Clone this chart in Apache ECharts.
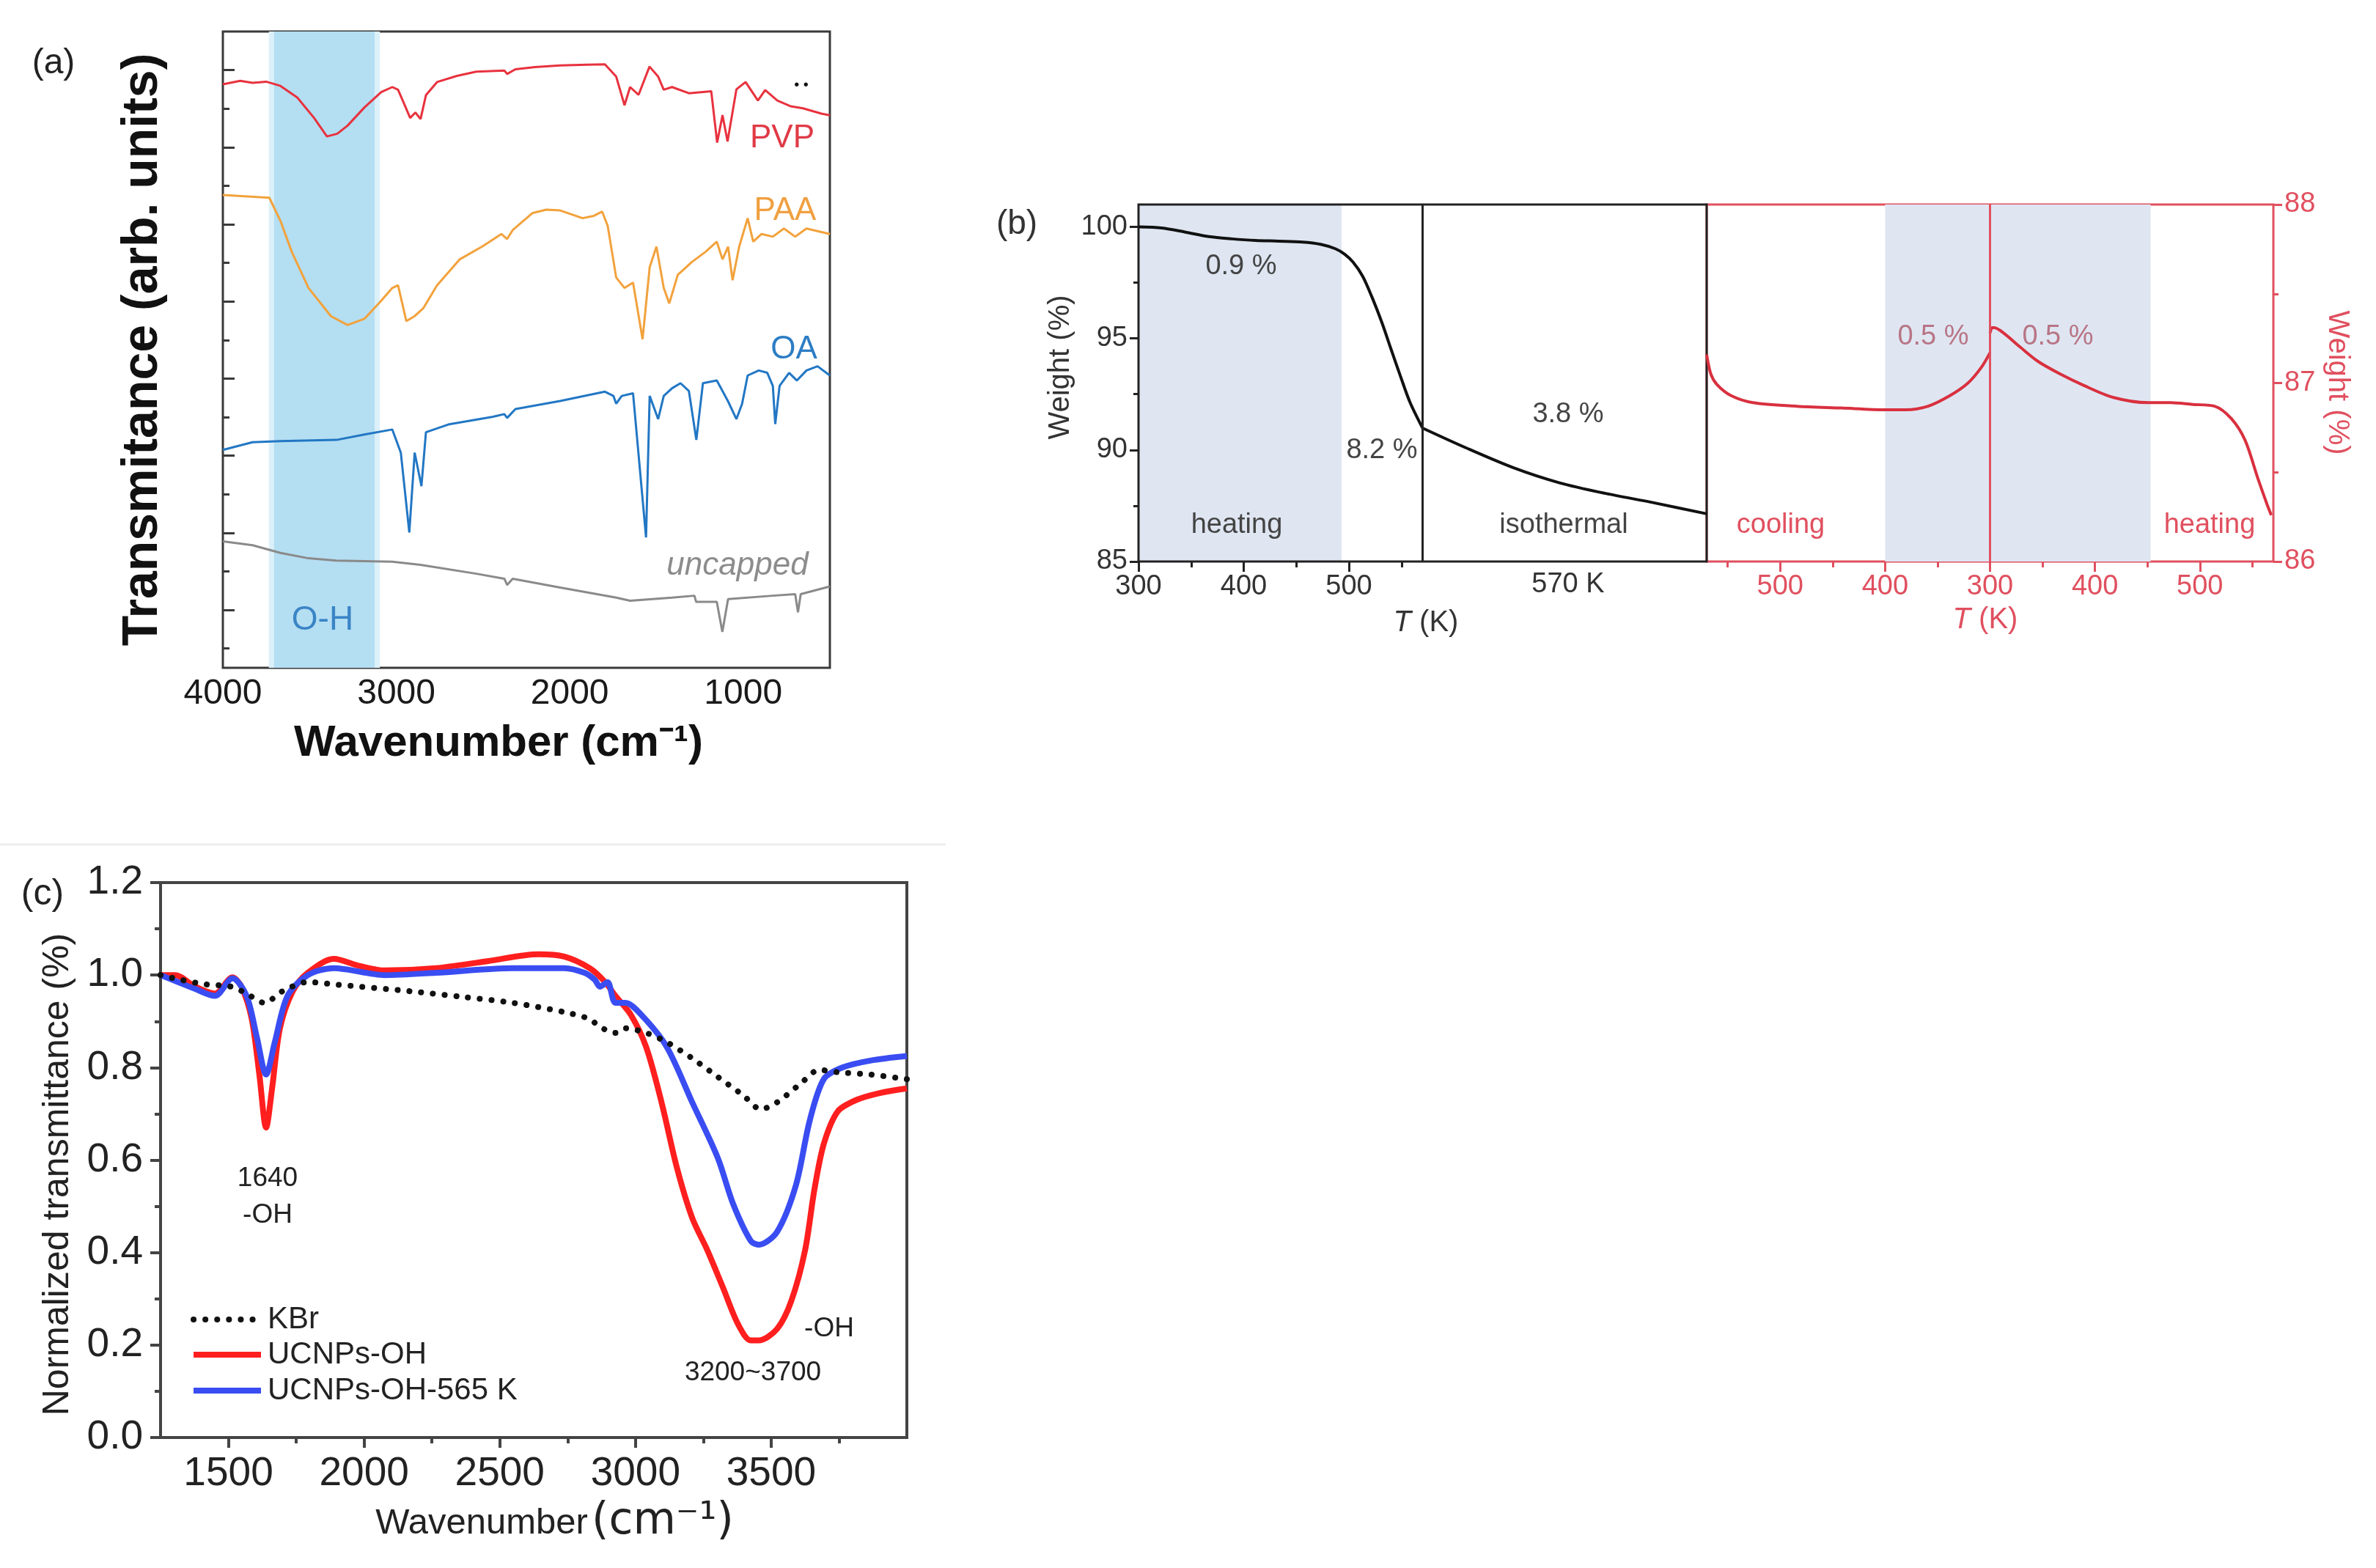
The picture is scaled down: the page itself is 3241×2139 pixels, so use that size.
<!DOCTYPE html>
<html>
<head>
<meta charset="utf-8">
<title>FTIR / TGA panels</title>
<script src="https://cdn.jsdelivr.net/npm/echarts@6.0.0/dist/echarts.min.js"></script>
<style>
  html, body { margin: 0; padding: 0; background: #fff; }
  #chart { width: 3241px; height: 2139px; }
</style>
</head>
<body>
<div id="chart"></div>
<script>
// (a) FTIR of capped particles, offset transmittance (arb. units, 1 unit = 1 tick)
const pvpWave = [4000, 3900, 3829, 3750, 3668, 3571, 3474, 3400, 3340, 3281, 3184, 3087, 3023, 2990, 2958, 2920, 2890, 2860, 2829, 2765, 2650, 2539, 2377, 2361, 2313, 2200, 2055, 1900, 1797, 1732, 1684, 1652, 1603, 1540, 1490, 1458, 1410, 1313, 1184, 1150, 1119, 1090, 1039, 986, 915, 873, 803, 725, 655, 549, 500]
const pvpVal = [15.13, 15.22, 15.17, 15.20, 15.09, 14.79, 14.26, 13.78, 13.85, 14.06, 14.53, 14.93, 15.06, 14.99, 14.66, 14.26, 14.40, 14.23, 14.85, 15.19, 15.35, 15.46, 15.49, 15.40, 15.52, 15.58, 15.62, 15.64, 15.65, 15.33, 14.59, 15.06, 14.86, 15.59, 15.33, 14.99, 15.06, 14.90, 14.95, 13.62, 14.33, 13.65, 15.00, 15.19, 14.71, 14.98, 14.71, 14.56, 14.51, 14.37, 14.33]

const paaWave = [4000, 3732, 3668, 3603, 3506, 3377, 3281, 3184, 3087, 3023, 2990, 2942, 2894, 2845, 2765, 2635, 2506, 2394, 2361, 2329, 2216, 2135, 2055, 1926, 1861, 1813, 1781, 1732, 1684, 1635, 1580, 1539, 1500, 1458, 1426, 1377, 1345, 1297, 1216, 1152, 1119, 1087, 1061, 1023, 974, 942, 894, 829, 765, 700, 635, 500]
const paaVal = [12.26, 12.19, 11.59, 10.79, 9.85, 9.12, 8.89, 9.05, 9.52, 9.85, 9.92, 8.99, 9.12, 9.32, 9.92, 10.59, 10.92, 11.25, 11.12, 11.35, 11.79, 11.88, 11.86, 11.66, 11.72, 11.83, 11.46, 10.12, 9.85, 9.99, 8.52, 10.39, 10.92, 9.85, 9.45, 10.19, 10.32, 10.52, 10.79, 11.05, 10.59, 10.92, 10.05, 10.92, 11.66, 11.05, 11.25, 11.18, 11.39, 11.18, 11.39, 11.25]

const oaWave = [4000, 3829, 3668, 3345, 3184, 3023, 2974, 2925, 2894, 2855, 2829, 2700, 2442, 2377, 2361, 2313, 2055, 1797, 1748, 1732, 1700, 1635, 1560, 1539, 1490, 1458, 1410, 1361, 1313, 1270, 1232, 1152, 1087, 1039, 1006, 974, 910, 861, 829, 815, 790, 735, 690, 635, 571, 500]
const oaVal = [5.65, 5.85, 5.88, 5.91, 6.05, 6.18, 5.58, 3.51, 5.58, 4.71, 6.11, 6.31, 6.51, 6.58, 6.48, 6.71, 6.92, 7.16, 7.05, 6.85, 7.05, 7.12, 3.38, 7.05, 6.45, 7.05, 7.25, 7.38, 7.18, 5.91, 7.38, 7.45, 6.91, 6.45, 6.85, 7.58, 7.71, 7.65, 7.31, 6.32, 7.31, 7.65, 7.45, 7.71, 7.82, 7.58]

const bareWave = [4000, 3829, 3668, 3506, 3345, 3023, 2861, 2539, 2377, 2361, 2329, 2055, 1732, 1652, 1410, 1281, 1271, 1152, 1120, 1087, 829, 700, 684, 668, 500]
const bareVal = [3.28, 3.18, 2.98, 2.84, 2.78, 2.75, 2.67, 2.44, 2.31, 2.15, 2.31, 2.08, 1.82, 1.74, 1.82, 1.87, 1.71, 1.71, 0.93, 1.78, 1.87, 1.91, 1.44, 1.91, 2.11]

const aWaveLabels = [1000, 2000, 3000, 4000]
const aMajorTicks = [1.5, 3.5, 5.5, 7.5, 9.5, 11.5, 13.5, 15.5]
const aMinorTicks = [0.5, 2.5, 4.5, 6.5, 8.5, 10.5, 12.5, 14.5]

// (b) TGA: heating to 570 K, isothermal hold, then cooling / reheating
const heatT = [300, 322, 344, 367, 389, 411, 433, 456, 473, 487, 496, 504, 513, 522, 531, 540, 549, 558, 570]
const heatW = [100.0, 99.95, 99.77, 99.56, 99.46, 99.39, 99.36, 99.32, 99.22, 99.02, 98.77, 98.41, 97.79, 96.84, 95.75, 94.52, 93.30, 92.14, 90.98]
const isoPos = [570, 611, 656, 700, 744, 789, 840]
const isoW = [90.98, 90.10, 89.21, 88.53, 88.05, 87.64, 87.14]

const coolT = [570, 566, 560, 547, 526, 484, 442, 400, 380, 359, 338, 321, 308, 300]
const coolW = [87.16, 87.05, 86.99, 86.93, 86.89, 86.87, 86.86, 86.85, 86.85, 86.87, 86.93, 87.00, 87.09, 87.17]
const reheatT = [300, 302, 304, 313, 329, 346, 367, 388, 417, 451, 472, 493, 514, 530, 543, 555, 564, 568]
const reheatW = [87.28, 87.31, 87.31, 87.28, 87.20, 87.12, 87.05, 86.99, 86.92, 86.89, 86.89, 86.88, 86.87, 86.80, 86.68, 86.47, 86.32, 86.26]

// (c) normalized FTIR
const kbrWave = [1250, 1322, 1416, 1510, 1567, 1633, 1699, 1793, 1888, 2171, 2360, 2548, 2737, 2831, 2869, 2926, 2963, 3039, 3115, 3209, 3303, 3397, 3462, 3522, 3608, 3677, 3745, 3865, 4000]
const kbrVal = [1.00, 0.99, 0.98, 0.975, 0.96, 0.94, 0.965, 0.985, 0.98, 0.965, 0.953, 0.94, 0.92, 0.905, 0.888, 0.875, 0.885, 0.875, 0.855, 0.82, 0.78, 0.74, 0.71, 0.725, 0.765, 0.795, 0.79, 0.785, 0.775]
const ohWave = [1250, 1303, 1378, 1450, 1515, 1548, 1586, 1614, 1639, 1661, 1690, 1737, 1793, 1888, 1982, 2076, 2265, 2454, 2643, 2737, 2831, 2888, 2926, 2982, 3039, 3096, 3152, 3209, 3265, 3322, 3378, 3425, 3454, 3522, 3574, 3625, 3659, 3694, 3745, 3814, 3900, 4000]
const ohVal = [1.00, 1.00, 0.975, 0.96, 0.995, 0.975, 0.905, 0.785, 0.67, 0.755, 0.885, 0.965, 1.005, 1.035, 1.02, 1.01, 1.015, 1.03, 1.045, 1.04, 1.015, 0.985, 0.955, 0.915, 0.845, 0.725, 0.585, 0.475, 0.405, 0.325, 0.245, 0.21, 0.21, 0.235, 0.295, 0.405, 0.535, 0.635, 0.705, 0.73, 0.745, 0.755]
const oh565Wave = [1250, 1378, 1450, 1515, 1567, 1605, 1639, 1671, 1718, 1793, 1888, 2076, 2265, 2548, 2737, 2812, 2850, 2869, 2897, 2926, 2963, 3020, 3115, 3209, 3303, 3360, 3425, 3454, 3522, 3591, 3642, 3694, 3762, 3865, 4000]
const oh565Val = [1.00, 0.97, 0.955, 0.993, 0.955, 0.865, 0.785, 0.855, 0.955, 1.00, 1.015, 1.00, 1.005, 1.015, 1.015, 1.005, 0.99, 0.975, 0.985, 0.94, 0.94, 0.915, 0.845, 0.725, 0.605, 0.505, 0.425, 0.417, 0.445, 0.545, 0.685, 0.775, 0.80, 0.815, 0.825]
const cMajorX = [1500, 2000, 2500, 3000, 3500]
const cMinorX = [1750, 2250, 2750, 3250, 3750]

const FONT = "'Liberation Sans', Arial, Helvetica, sans-serif"
const RED_B = '#e0505f'
const KBR_DOTS = [0.1, 16]

function pairs (xs, ys) {
  return xs.map((x, i) => [x, ys[i]])
}

// right half of (b): cooling 570 -> 300 then heating 300 -> 570 on one position axis
const coolPos = coolT.map(t => 570 - t)
const reheatPos = reheatT.map(t => t - 30)
const posToT = p => (p <= 270 ? 570 - p : p + 30)

function text (str, x, y, size, color, more, el) {
  return Object.assign({
    type: 'text',
    x: x,
    y: y,
    z: 100,
    silent: true,
    style: Object.assign({
      text: str,
      fontSize: size,
      fontFamily: FONT,
      fill: color,
      align: 'center',
      verticalAlign: 'middle'
    }, more || {})
  }, el || {})
}

function legendLine (y, color, dash) {
  return {
    type: 'line', z: 100, silent: true,
    shape: { x1: 264, y1: y, x2: 356, y2: y },
    style: { stroke: color, lineWidth: 8, lineDash: dash || null, lineCap: dash ? 'round' : 'butt' }
  }
}

// axis lines are drawn by the grid borders, so every axis keeps its own line off and never jumps to zero
const NO_LINE = { show: false, onZero: false }

function hiddenAxis (extra) {
  return Object.assign({
    type: 'value',
    axisLine: NO_LINE,
    axisLabel: { show: false },
    splitLine: { show: false }
  }, extra)
}

const plain = v => String(v)

const chart = echarts.init(document.getElementById('chart'))

const option = {
  animation: false,
  backgroundColor: '#fff',
  textStyle: { fontFamily: FONT },
  grid: [
    { left: 304, top: 43, width: 828, height: 868, show: true, borderColor: '#3a3a3a', borderWidth: 3, outerBoundsMode: 'none' },
    { left: 1553, top: 279, width: 775, height: 487, show: true, borderColor: '#222', borderWidth: 3, z: 2, outerBoundsMode: 'none' },
    { left: 2328, top: 279, width: 773, height: 487, show: true, borderColor: RED_B, borderWidth: 3, z: 1, outerBoundsMode: 'none' },
    { left: 219, top: 1204, width: 1018, height: 757, show: true, borderColor: '#444', borderWidth: 4, outerBoundsMode: 'none' }
  ],
  xAxis: [
    { // (a)
      gridIndex: 0, type: 'value', position: 'bottom', min: 500, max: 4000, inverse: true,
      axisLine: NO_LINE, axisTick: { show: false }, splitLine: { show: false },
      axisLabel: { customValues: aWaveLabels, formatter: plain, fontSize: 48, color: '#1a1a1a', margin: 12, fontFamily: FONT }
    },
    { // (b) heating + isothermal
      gridIndex: 1, type: 'value', position: 'bottom', min: 300, max: 840,
      axisLine: NO_LINE, splitLine: { show: false },
      axisTick: { customValues: [300, 400, 500], length: 14, lineStyle: { color: '#222', width: 3 } },
      axisLabel: { customValues: [300, 400, 500], formatter: plain, fontSize: 38, color: '#333', margin: 16, fontFamily: FONT }
    },
    hiddenAxis({ gridIndex: 1, position: 'bottom', min: 300, max: 840, axisTick: { customValues: [350, 450, 550], length: 8, lineStyle: { color: '#222', width: 3 } } }),
    { // (b) cooling + reheating
      gridIndex: 2, type: 'value', position: 'bottom', min: 0, max: 540,
      axisLine: NO_LINE, splitLine: { show: false },
      axisTick: { customValues: [70, 170, 270, 370, 470], length: 14, lineStyle: { color: RED_B, width: 3 } },
      axisLabel: { customValues: [70, 170, 270, 370, 470], formatter: v => String(posToT(v)), fontSize: 38, color: RED_B, margin: 16, fontFamily: FONT }
    },
    hiddenAxis({ gridIndex: 2, position: 'bottom', min: 0, max: 540, axisTick: { customValues: [20, 120, 220, 320, 420, 520], length: 8, lineStyle: { color: RED_B, width: 3 } } }),
    { // (c)
      gridIndex: 3, type: 'value', position: 'bottom', min: 1250, max: 4000,
      axisLine: NO_LINE, splitLine: { show: false },
      axisTick: { customValues: cMajorX, length: 14, lineStyle: { color: '#444', width: 4 } },
      axisLabel: { customValues: cMajorX, formatter: plain, fontSize: 55, color: '#222', margin: 22, fontFamily: FONT }
    },
    hiddenAxis({ gridIndex: 3, position: 'bottom', min: 1250, max: 4000, axisTick: { customValues: cMinorX, length: 8, lineStyle: { color: '#444', width: 4 } } })
  ],
  yAxis: [
    hiddenAxis({ gridIndex: 0, position: 'left', min: 0, max: 16.5, axisTick: { inside: true, customValues: aMajorTicks, length: 16, lineStyle: { color: '#3a3a3a', width: 3 } } }),
    hiddenAxis({ gridIndex: 0, position: 'left', min: 0, max: 16.5, axisTick: { inside: true, customValues: aMinorTicks, length: 9, lineStyle: { color: '#3a3a3a', width: 3 } } }),
    {
      gridIndex: 1, type: 'value', position: 'left', min: 85, max: 101,
      axisLine: NO_LINE, splitLine: { show: false },
      axisTick: { customValues: [85, 90, 95, 100], length: 12, lineStyle: { color: '#222', width: 3 } },
      axisLabel: { customValues: [85, 90, 95, 100], formatter: plain, fontSize: 38, color: '#333', margin: 15, fontFamily: FONT }
    },
    hiddenAxis({ gridIndex: 1, position: 'left', min: 85, max: 101, axisTick: { customValues: [87.5, 92.5, 97.5], length: 7, lineStyle: { color: '#222', width: 3 } } }),
    {
      gridIndex: 2, type: 'value', position: 'right', min: 86, max: 88,
      axisLine: NO_LINE, splitLine: { show: false },
      axisTick: { customValues: [86, 87, 88], length: 12, lineStyle: { color: RED_B, width: 3 } },
      axisLabel: { customValues: [86, 87, 88], formatter: plain, fontSize: 38, color: RED_B, margin: 15, fontFamily: FONT }
    },
    hiddenAxis({ gridIndex: 2, position: 'right', min: 86, max: 88, axisTick: { customValues: [86.5, 87.5], length: 7, lineStyle: { color: RED_B, width: 3 } } }),
    {
      gridIndex: 3, type: 'value', position: 'left', min: 0, max: 1.2, interval: 0.2,
      axisLine: NO_LINE, splitLine: { show: false },
      axisTick: { length: 14, lineStyle: { color: '#444', width: 4 } },
      minorTick: { show: true, splitNumber: 2, length: 8, lineStyle: { color: '#444', width: 4 } },
      axisLabel: { formatter: v => v.toFixed(1), fontSize: 55, color: '#222', margin: 24, fontFamily: FONT }
    }
  ],
  series: [
    {
      name: 'PVP', type: 'line', xAxisIndex: 0, yAxisIndex: 0, symbol: 'none',
      data: pairs(pvpWave, pvpVal),
      lineStyle: { color: '#e8323e', width: 3 }, itemStyle: { color: '#e8323e' },
      markArea: {
        silent: true,
        data: [
          [{ xAxis: 3735, itemStyle: { color: '#dcf0fa' } }, { xAxis: 3095 }],
          [{ xAxis: 3705, itemStyle: { color: '#b4def2' } }, { xAxis: 3125 }]
        ]
      }
    },
    { name: 'PAA', type: 'line', xAxisIndex: 0, yAxisIndex: 0, symbol: 'none', data: pairs(paaWave, paaVal), lineStyle: { color: '#f2a23c', width: 3 }, itemStyle: { color: '#f2a23c' } },
    { name: 'OA', type: 'line', xAxisIndex: 0, yAxisIndex: 0, symbol: 'none', data: pairs(oaWave, oaVal), lineStyle: { color: '#2277c4', width: 3 }, itemStyle: { color: '#2277c4' } },
    { name: 'uncapped', type: 'line', xAxisIndex: 0, yAxisIndex: 0, symbol: 'none', data: pairs(bareWave, bareVal), lineStyle: { color: '#8a8a8a', width: 3 }, itemStyle: { color: '#8a8a8a' } },

    {
      name: 'heating', type: 'line', xAxisIndex: 1, yAxisIndex: 2, symbol: 'none', smooth: 0.3,
      data: pairs(heatT, heatW),
      lineStyle: { color: '#111', width: 4 }, itemStyle: { color: '#111' },
      markArea: { silent: true, data: [[{ xAxis: 300, itemStyle: { color: '#dfe6f2' } }, { xAxis: 493 }]] },
      markLine: { silent: true, symbol: 'none', label: { show: false }, lineStyle: { color: '#222', width: 3, type: 'solid' }, data: [{ xAxis: 570 }] }
    },
    { name: 'isothermal', type: 'line', xAxisIndex: 1, yAxisIndex: 2, symbol: 'none', smooth: 0.3, data: pairs(isoPos, isoW), lineStyle: { color: '#111', width: 4 }, itemStyle: { color: '#111' } },
    {
      name: 'cooling', type: 'line', xAxisIndex: 3, yAxisIndex: 4, symbol: 'none', smooth: 0.3,
      data: pairs(coolPos, coolW),
      lineStyle: { color: '#d9303f', width: 4 }, itemStyle: { color: '#d9303f' },
      markArea: { silent: true, data: [[{ xAxis: 170, itemStyle: { color: '#dfe6f2' } }, { xAxis: 423 }]] },
      markLine: { silent: true, symbol: 'none', label: { show: false }, lineStyle: { color: RED_B, width: 3, type: 'solid' }, data: [{ xAxis: 270 }] }
    },
    { name: 'reheating', type: 'line', xAxisIndex: 3, yAxisIndex: 4, symbol: 'none', smooth: 0.3, data: pairs(reheatPos, reheatW), lineStyle: { color: '#d9303f', width: 4 }, itemStyle: { color: '#d9303f' } },

    { name: 'UCNPs-OH', type: 'line', xAxisIndex: 5, yAxisIndex: 6, symbol: 'none', smooth: 0.3, data: pairs(ohWave, ohVal), lineStyle: { color: '#ff1f1f', width: 8 }, itemStyle: { color: '#ff1f1f' } },
    { name: 'UCNPs-OH-565 K', type: 'line', xAxisIndex: 5, yAxisIndex: 6, symbol: 'none', smooth: 0.3, data: pairs(oh565Wave, oh565Val), lineStyle: { color: '#3a4df2', width: 8 }, itemStyle: { color: '#3a4df2' } },
    { name: 'KBr', type: 'line', xAxisIndex: 5, yAxisIndex: 6, symbol: 'none', smooth: 0.3, data: pairs(kbrWave, kbrVal), lineStyle: { color: '#111', width: 8, type: KBR_DOTS, cap: 'round' }, itemStyle: { color: '#111' } }
  ],
  graphic: [
    // separator under (a)
    { type: 'line', silent: true, shape: { x1: 0, y1: 1152, x2: 1290, y2: 1152 }, style: { stroke: '#eeeeee', lineWidth: 3 } },

    // (a)
    text('(a)', 73, 87, 48, '#222'),
    text('Transmitance (arb. units)', 195, 477, 68, '#111', { fontWeight: 'bold' }, { rotation: Math.PI / 2 }),
    text('{b|Wavenumber} (cm⁻¹)', 680, 1014, 60, '#111', { fontWeight: 'bold', rich: { b: { fontSize: 60, fontWeight: 'bold', fontFamily: FONT, fill: '#111' } } }),
    text('PVP', 1067, 189, 44, '#e03a46'),
    text('PAA', 1071, 288, 44, '#f0a040'),
    text('OA', 1083, 477, 44, '#2c7dc4'),
    text('uncapped', 1006, 772, 44, '#8c8c8c', { fontStyle: 'italic' }),
    text('O-H', 440, 846, 46, '#3a84c6'),
    text('• •', 1093, 116, 20, '#111'),

    // (b)
    text('(b)', 1387, 306, 46, '#333'),
    text('Weight (%)', 1447, 501, 40, '#333', null, { rotation: Math.PI / 2 }),
    text('0.9 %', 1693, 364, 38, '#444'),
    text('8.2 %', 1885, 615, 38, '#444'),
    text('3.8 %', 2139, 566, 38, '#444'),
    text('heating', 1687, 717, 38, '#444'),
    text('isothermal', 2133, 717, 38, '#444'),
    text('570 K', 2139, 798, 38, '#333'),
    text('{i|T} (K)', 1945, 850, 40, '#333', { rich: { i: { fontStyle: 'italic', fontSize: 40, fontFamily: FONT, fill: '#333' } } }),
    text('cooling', 2429, 717, 38, RED_B),
    text('0.5 %', 2637, 460, 38, '#b87585'),
    text('0.5 %', 2807, 460, 38, '#b87585'),
    text('heating', 3014, 717, 38, RED_B),
    text('{i|T} (K)', 2708, 846, 40, RED_B, { rich: { i: { fontStyle: 'italic', fontSize: 40, fontFamily: FONT, fill: RED_B } } }),
    text('Weight (%)', 3188, 522, 40, RED_B, null, { rotation: -Math.PI / 2 }),

    // (c)
    text('(c)', 58, 1220, 50, '#222'),
    text('Normalized transmittance (%)', 79, 1602, 50, '#222', null, { rotation: Math.PI / 2 }),
    text('Wavenumber', 657, 2078, 49, '#222'),
    text('(cm⁻¹)', 807, 2076, 60, '#222', { align: 'left', fontFamily: "'DejaVu Sans', sans-serif" }),
    text('1640', 365, 1608, 37, '#222'),
    text('-OH', 365, 1658, 37, '#222'),
    text('3200~3700', 1027, 1873, 37, '#222'),
    text('-OH', 1131, 1813, 37, '#222'),

    // legend of (c)
    legendLine(1800, '#111', KBR_DOTS),
    legendLine(1848, '#ff1f1f'),
    legendLine(1897, '#3a4df2'),
    text('KBr', 365, 1800, 42, '#222', { align: 'left' }),
    text('UCNPs-OH', 365, 1848, 42, '#222', { align: 'left' }),
    text('UCNPs-OH-565 K', 365, 1897, 42, '#222', { align: 'left' })
  ]
}

chart.setOption(option)
window.addEventListener('resize', () => chart.resize())
</script>
</body>
</html>
